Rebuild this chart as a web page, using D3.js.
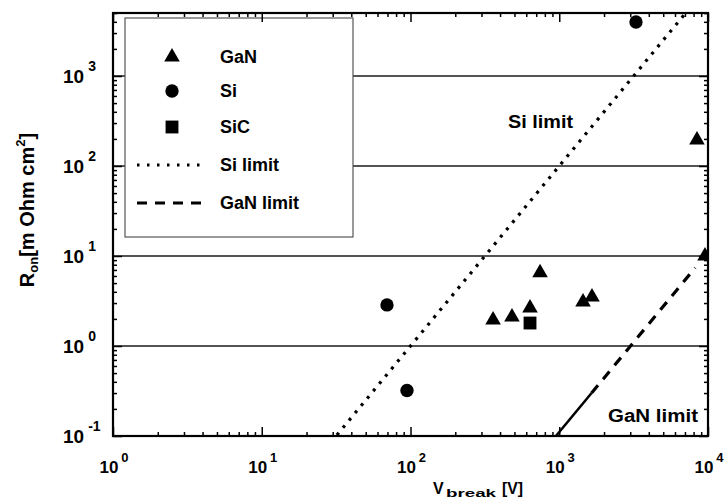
<!DOCTYPE html>
<html>
<head>
<meta charset="utf-8">
<script src="https://cdn.jsdelivr.net/npm/d3@7/dist/d3.min.js"></script>
<style>
html,body{margin:0;padding:0;background:#fff;}
svg{display:block;}
text{font-family:"Liberation Sans",Arial,Helvetica,sans-serif;font-weight:bold;fill:#000;}
</style>
</head>
<body>
<svg id="chart" width="726" height="498"></svg>
<script>
// ---- data ----
const xMajorTicks = [1, 10, 100, 1000, 10000];
const xTickExponents = ["0", "1", "2", "3", "4"];
const yMajorTicks = [0.1, 1, 10, 100, 1000];
const yTickExponents = ["-1", "0", "1", "2", "3"];
const gridValues = [1, 10, 100, 1000];

const ganV = [359, 481, 636, 743, 1445, 1660, 8430, 9550];
const ganR = [1.94, 2.1, 2.64, 6.5, 3.08, 3.5, 194, 10];
const siV = [69.5, 94.7, 3280];
const siR = [2.86, 0.32, 3980];
const sicV = [636];
const sicR = [1.8];

const siLimitV = [32, 7050];
const siLimitR = [0.1024, 4970];
const ganLimitDashV = [1650, 8200];
const ganLimitDashR = [0.30, 7.4];
const ganLimitSolidV = [950, 1650];
const ganLimitSolidR = [0.1, 0.30];

const legendLabels = ["GaN", "Si", "SiC", "Si limit", "GaN limit"];

// ---- layout ----
const X0 = 113, X1 = 708, Y0 = 13, Y1 = 436;
const svg = d3.select("#chart");

const x = d3.scaleLog().domain([1, 10000]).range([X0, X1]);
const y = d3.scaleLog().domain([0.1, Math.pow(10, 3.7)]).range([Y1, Y0]);

svg.append("defs").append("clipPath").attr("id", "plotclip")
  .append("rect").attr("x", X0).attr("y", Y0).attr("width", X1 - X0).attr("height", Y1 - Y0);

const plot = svg.append("g").attr("clip-path", "url(#plotclip)");

// gridlines
plot.selectAll("line.grid").data(gridValues).enter().append("line")
  .attr("class", "grid")
  .attr("x1", X0).attr("x2", X1)
  .attr("y1", d => y(d)).attr("y2", d => y(d))
  .attr("stroke", "#1a1a1a").attr("stroke-width", 1.5);

// limit lines
const line = d3.line().x(d => x(d[0])).y(d => y(d[1]));
plot.append("path")
  .datum(d3.zip(siLimitV, siLimitR))
  .attr("d", line).attr("fill", "none").attr("stroke", "#000")
  .attr("stroke-width", 3.2).attr("stroke-dasharray", "3,6.5");
plot.append("path")
  .datum(d3.zip(ganLimitDashV, ganLimitDashR))
  .attr("d", line).attr("fill", "none").attr("stroke", "#000")
  .attr("stroke-width", 3.2).attr("stroke-dasharray", "10,8");
plot.append("path")
  .datum(d3.zip(ganLimitSolidV, ganLimitSolidR))
  .attr("d", line).attr("fill", "none").attr("stroke", "#000")
  .attr("stroke-width", 2.5);

// markers
const tri = d3.symbol().type(d3.symbolTriangle).size(105);
const circ = d3.symbol().type(d3.symbolCircle).size(140);
const sq = d3.symbol().type(d3.symbolSquare).size(165);

plot.selectAll("path.gan").data(d3.zip(ganV, ganR)).enter().append("path")
  .attr("class", "gan").attr("d", tri)
  .attr("transform", d => `translate(${x(d[0])},${y(d[1])})`).attr("fill", "#000");
plot.selectAll("path.si").data(d3.zip(siV, siR)).enter().append("path")
  .attr("class", "si").attr("d", circ)
  .attr("transform", d => `translate(${x(d[0])},${y(d[1])})`).attr("fill", "#000");
plot.selectAll("path.sic").data(d3.zip(sicV, sicR)).enter().append("path")
  .attr("class", "sic").attr("d", sq)
  .attr("transform", d => `translate(${x(d[0])},${y(d[1])})`).attr("fill", "#000");

// annotations
svg.append("text").attr("x", 508).attr("y", 128).attr("font-size", 18)
  .attr("textLength", 65).attr("lengthAdjust", "spacingAndGlyphs").text("Si limit");
svg.append("text").attr("x", 608).attr("y", 422).attr("font-size", 18)
  .attr("textLength", 90).attr("lengthAdjust", "spacingAndGlyphs").text("GaN limit");

// legend
const lg = svg.append("g");
lg.append("rect").attr("x", 125).attr("y", 18).attr("width", 228).attr("height", 219)
  .attr("fill", "#fff").attr("stroke", "#555").attr("stroke-width", 1.2);
const legY = [57, 91, 127, 165, 203];
lg.append("path").attr("d", tri).attr("transform", `translate(172,${legY[0]})`);
lg.append("path").attr("d", circ).attr("transform", `translate(172,${legY[1]})`);
lg.append("path").attr("d", sq).attr("transform", `translate(172,${legY[2]})`);
lg.append("line").attr("x1", 137).attr("x2", 203).attr("y1", legY[3]).attr("y2", legY[3])
  .attr("stroke", "#000").attr("stroke-width", 3).attr("stroke-dasharray", "2.5,7.5");
lg.append("line").attr("x1", 137).attr("x2", 203).attr("y1", legY[4]).attr("y2", legY[4])
  .attr("stroke", "#000").attr("stroke-width", 3).attr("stroke-dasharray", "10,8");
lg.selectAll("text").data(legendLabels).enter().append("text")
  .attr("x", 220).attr("y", (d, i) => legY[i] + 6).attr("font-size", 18).text(d => d);

// axes with inward ticks (major and minor) on all four sides
const xMinor = x.ticks().filter(v => xMajorTicks.indexOf(v) < 0);
const yMinor = y.ticks().filter(v => yMajorTicks.indexOf(v) < 0);

function styleAxis(g) {
  g.select(".domain").remove();
  g.selectAll("text").remove();
  g.selectAll("line").attr("stroke", "#000").attr("stroke-width", 1.5);
}
svg.append("g").attr("transform", `translate(0,${Y1})`)
  .call(d3.axisBottom(x).tickValues(xMajorTicks).tickSize(-9)).call(styleAxis);
svg.append("g").attr("transform", `translate(0,${Y1})`)
  .call(d3.axisBottom(x).tickValues(xMinor).tickSize(-4)).call(styleAxis);
svg.append("g").attr("transform", `translate(0,${Y0})`)
  .call(d3.axisTop(x).tickValues(xMajorTicks).tickSize(-9)).call(styleAxis);
svg.append("g").attr("transform", `translate(0,${Y0})`)
  .call(d3.axisTop(x).tickValues(xMinor).tickSize(-4)).call(styleAxis);
svg.append("g").attr("transform", `translate(${X0},0)`)
  .call(d3.axisLeft(y).tickValues(yMajorTicks).tickSize(-9)).call(styleAxis);
svg.append("g").attr("transform", `translate(${X0},0)`)
  .call(d3.axisLeft(y).tickValues(yMinor).tickSize(-4)).call(styleAxis);
svg.append("g").attr("transform", `translate(${X1},0)`)
  .call(d3.axisRight(y).tickValues(yMajorTicks).tickSize(-9)).call(styleAxis);
svg.append("g").attr("transform", `translate(${X1},0)`)
  .call(d3.axisRight(y).tickValues(yMinor).tickSize(-4)).call(styleAxis);

// frame
svg.append("rect").attr("x", X0).attr("y", Y0).attr("width", X1 - X0).attr("height", Y1 - Y0)
  .attr("fill", "none").attr("stroke", "#000").attr("stroke-width", 2.2);

// x tick labels
xMajorTicks.forEach((v, i) => {
  const t = svg.append("text").attr("x", x(v) + 1).attr("y", 473)
    .attr("text-anchor", "middle").attr("font-size", 17);
  t.append("tspan").text("10");
  t.append("tspan").attr("dx", 3).attr("dy", -11).attr("font-size", 13).text(xTickExponents[i]);
});
// y tick labels
yMajorTicks.forEach((v, i) => {
  const t = svg.append("text").attr("x", 63).attr("y", y(v) + 7).attr("font-size", 19);
  t.append("tspan").text("10");
  t.append("tspan").attr("dx", 4).attr("dy", -12).attr("font-size", 14).text(yTickExponents[i]);
});

// axis titles
svg.append("text").attr("x", 433).attr("y", 494).attr("font-size", 16).text("V");
svg.append("text").attr("x", 446).attr("y", 497).attr("font-size", 11)
  .attr("textLength", 50).attr("lengthAdjust", "spacingAndGlyphs").text("break");
svg.append("text").attr("x", 502).attr("y", 494).attr("font-size", 16)
  .attr("textLength", 21).attr("lengthAdjust", "spacingAndGlyphs").text("[V]");

const yt = svg.append("text").attr("transform", "translate(34,210) rotate(-90)")
  .attr("text-anchor", "middle").attr("font-size", 20);
yt.append("tspan").text("R");
yt.append("tspan").attr("font-size", 13).attr("dy", 4).text("on");
yt.append("tspan").attr("dy", -4).text("[m Ohm cm");
yt.append("tspan").attr("font-size", 13).attr("dy", -9).text("2");
yt.append("tspan").attr("dy", 9).text("]");
</script>
</body>
</html>
